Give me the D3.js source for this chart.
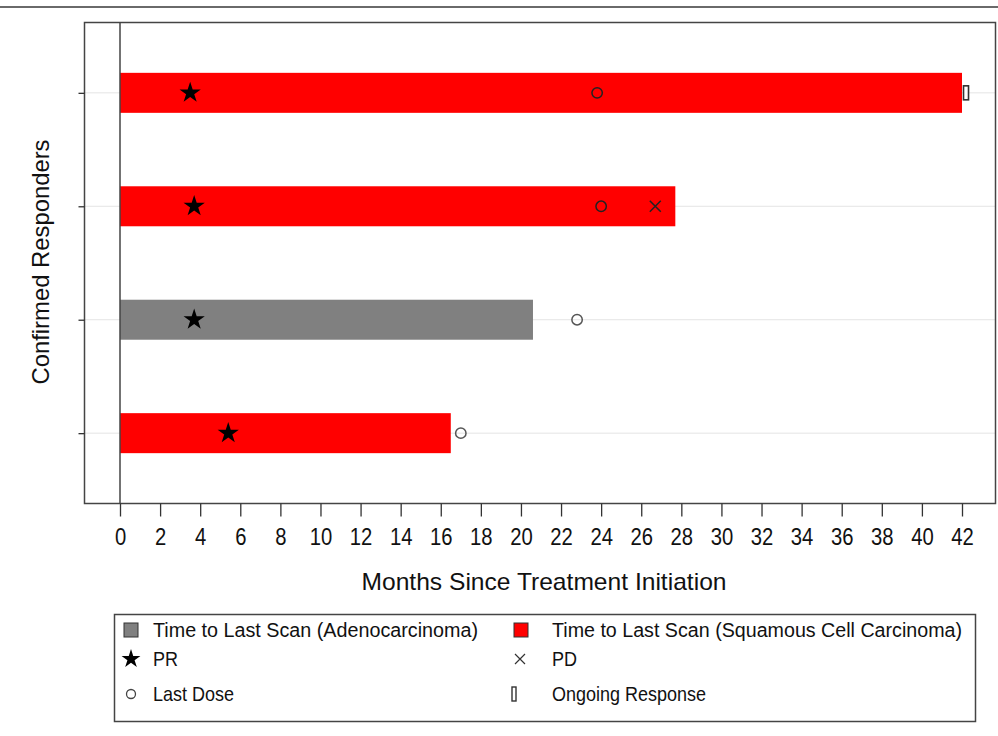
<!DOCTYPE html>
<html>
<head>
<meta charset="utf-8">
<script src="https://cdn.jsdelivr.net/npm/d3@7"></script>
<style>
  html, body { margin: 0; padding: 0; background: #fff; }
  svg text { font-family: "Liberation Sans", Arial, sans-serif; fill: #111; }
</style>
</head>
<body>
<svg id="chart" width="998" height="736"></svg>
<script>
// Swimmer plot of confirmed responders: one row per patient, top to bottom
const patients = ["P1", "P2", "P3", "P4"];
const histology = ["Squamous", "Squamous", "Adeno", "Squamous"];
const timeToLastScan = [42.0, 27.7, 20.6, 16.5];   // months
const prOnset = [3.5, 3.7, 3.7, 5.4];              // partial response
const lastDose = [23.8, 24.0, 22.8, 17.0];
const pdTime = [null, 26.7, null, null];           // progressive disease
const ongoing = [42.2, null, null, null];          // ongoing response marker
const xTicks = d3.range(0, 43, 2);

const legendItems = [
  "Time to Last Scan (Adenocarcinoma)",
  "Time to Last Scan (Squamous Cell Carcinoma)",
  "PR", "PD", "Last Dose", "Ongoing Response"
];

const colors = { Adeno: "#808080", Squamous: "#ff0000" };

const svg = d3.select("#chart");
const frame = { left: 84.5, right: 995.5, top: 22.5, bottom: 503.5 };

const x = d3.scaleLinear().domain([0, 42]).range([120, 962]);
const y = d3.scalePoint().domain(patients).range([frame.top, frame.bottom]).padding(0.62);
const barH = 40;

// rule across the top of the page
svg.append("line").attr("x1", 0).attr("x2", 998).attr("y1", 7).attr("y2", 7)
  .attr("stroke", "#6a6a6a").attr("stroke-width", 2.2);

// horizontal grid lines
svg.append("g").selectAll("line").data(patients).join("line")
  .attr("x1", frame.left).attr("x2", frame.right)
  .attr("y1", d => y(d)).attr("y2", d => y(d))
  .attr("stroke", "#e4e4e4").attr("stroke-width", 1);

const rows = patients.map((p, i) => ({
  p, h: histology[i], end: timeToLastScan[i], pr: prOnset[i],
  dose: lastDose[i], pd: pdTime[i], on: ongoing[i]
}));

// bars
svg.append("g").selectAll("rect").data(rows).join("rect")
  .attr("x", x(0)).attr("y", d => y(d.p) - barH / 2)
  .attr("width", d => x(d.end) - x(0)).attr("height", barH)
  .attr("fill", d => colors[d.h]);

// plot frame and zero line
svg.append("rect").attr("x", frame.left).attr("y", frame.top)
  .attr("width", frame.right - frame.left).attr("height", frame.bottom - frame.top)
  .attr("fill", "none").attr("stroke", "#444").attr("stroke-width", 1.5);
svg.append("line").attr("x1", x(0)).attr("x2", x(0))
  .attr("y1", frame.top).attr("y2", frame.bottom)
  .attr("stroke", "#444").attr("stroke-width", 1.5);

// x axis, condensed tick labels
const xAxis = svg.append("g").attr("transform", `translate(0,${frame.bottom})`)
  .call(d3.axisBottom(x).tickValues(xTicks).tickSize(13).tickPadding(12).tickFormat(d3.format("d")));
xAxis.select(".domain").remove();
xAxis.selectAll(".tick line").attr("stroke", "#333").attr("stroke-width", 1.3);
xAxis.selectAll(".tick text").attr("font-size", 23).attr("fill", "#111")
  .attr("transform", "scale(0.88,1)");

// y axis ticks (no labels)
const yAxis = svg.append("g").attr("transform", `translate(${frame.left},0)`)
  .call(d3.axisLeft(y).tickSize(6).tickFormat(""));
yAxis.select(".domain").remove();
yAxis.selectAll(".tick line").attr("stroke", "#333").attr("stroke-width", 1.3);

// axis titles
svg.append("text").attr("x", 544).attr("y", 590).attr("text-anchor", "middle")
  .attr("font-size", 24).attr("textLength", 365).attr("lengthAdjust", "spacingAndGlyphs")
  .text("Months Since Treatment Initiation");
svg.append("text").attr("transform", "translate(49,262) rotate(-90)")
  .attr("text-anchor", "middle").attr("font-size", 24)
  .attr("textLength", 245).attr("lengthAdjust", "spacingAndGlyphs")
  .text("Confirmed Responders");

// markers
const star = d3.symbol().type(d3.symbolStar).size(140);
svg.append("g").selectAll("path").data(rows).join("path")
  .attr("transform", d => `translate(${x(d.pr)},${y(d.p)})`)
  .attr("d", star).attr("fill", "#000");

svg.append("g").selectAll("circle").data(rows).join("circle")
  .attr("cx", d => x(d.dose)).attr("cy", d => y(d.p)).attr("r", 5.2)
  .attr("fill", "none")
  .attr("stroke", d => d.dose <= d.end ? "#222" : "#555").attr("stroke-width", 1.5);

function cross(sel, s) {
  sel.append("path").attr("d", `M${-s},${-s}L${s},${s}M${-s},${s}L${s},${-s}`)
    .attr("stroke", "#222").attr("stroke-width", 1.5).attr("fill", "none");
}
svg.append("g").selectAll("g").data(rows.filter(d => d.pd != null)).join("g")
  .attr("transform", d => `translate(${x(d.pd)},${y(d.p)})`)
  .each(function () { cross(d3.select(this), 5.5); });

svg.append("g").selectAll("rect").data(rows.filter(d => d.on != null)).join("rect")
  .attr("x", d => x(d.on) - 2.5).attr("y", d => y(d.p) - 7)
  .attr("width", 5).attr("height", 14)
  .attr("fill", "#fff").attr("stroke", "#333").attr("stroke-width", 1.6);

// legend
const lg = svg.append("g");
lg.append("rect").attr("x", 114.5).attr("y", 614.5).attr("width", 861).attr("height", 107)
  .attr("fill", "none").attr("stroke", "#444").attr("stroke-width", 1.5);

const colX = [124, 513];
const textX = [153, 552];
const rowY = [630, 659, 694];
const labelWidths = [325, 410, null, null, null, null];
legendItems.forEach((label, i) => {
  const c = i % 2, r = Math.floor(i / 2);
  const cx = colX[c], cy = rowY[r];
  const g = lg.append("g");
  if (r === 0) {
    g.append("rect").attr("x", cx + (c ? 1 : 0)).attr("y", cy - 7).attr("width", 14).attr("height", 14)
      .attr("fill", c ? colors.Squamous : colors.Adeno).attr("stroke", "#333").attr("stroke-width", 1);
  } else if (i === 2) {
    g.append("path").attr("transform", `translate(${cx + 7},${cy})`)
      .attr("d", d3.symbol().type(d3.symbolStar).size(110)).attr("fill", "#000");
  } else if (i === 3) {
    g.append("path").attr("transform", `translate(${cx + 7},${cy})`)
      .attr("d", "M-5,-5L5,5M-5,5L5,-5").attr("stroke", "#333")
      .attr("stroke-width", 1.2).attr("fill", "none");
  } else if (i === 4) {
    g.append("circle").attr("cx", cx + 7).attr("cy", cy).attr("r", 4.5)
      .attr("fill", "none").attr("stroke", "#444").attr("stroke-width", 1.3);
  } else {
    g.append("rect").attr("x", cx - 1).attr("y", cy - 7).attr("width", 4).attr("height", 14)
      .attr("fill", "#fff").attr("stroke", "#333").attr("stroke-width", 1.4);
  }
  const t = g.append("text").attr("x", textX[c]).attr("y", cy).attr("dy", "0.36em")
    .attr("font-size", 20).text(label);
  if (labelWidths[i]) t.attr("textLength", labelWidths[i]).attr("lengthAdjust", "spacingAndGlyphs");
  else t.attr("transform", `translate(${textX[c]},0) scale(0.9,1) translate(${-textX[c]},0)`);
});
</script>
</body>
</html>
